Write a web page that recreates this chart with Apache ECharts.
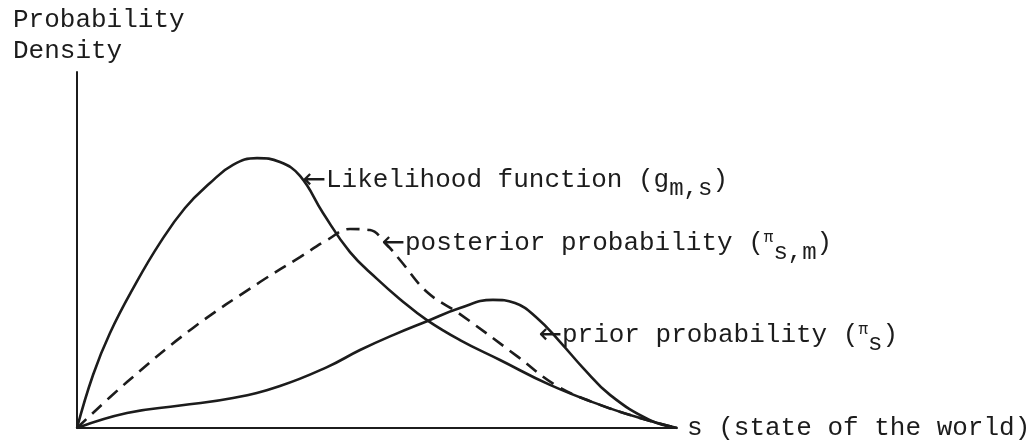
<!DOCTYPE html>
<html>
<head>
<meta charset="utf-8">
<script src="https://cdn.jsdelivr.net/npm/echarts@6/dist/echarts.min.js"></script>
<style>
  html, body { margin: 0; padding: 0; background: #fff; }
  #chart { width: 1035px; height: 444px; }
</style>
</head>
<body>
<div id="chart"></div>
<script>
// s runs 0..100 along the axis, density in arbitrary units 0..100
var likelihoodS = [0, 2.67, 5.5, 9.67, 13.83, 18, 22.17, 26, 30, 33.83, 37.17, 41, 45.5, 50, 53.83, 58.33, 63.83, 70.5, 78.83, 87.17, 93.83, 100]
var likelihoodY = [0, 14.9, 26.7, 40.2, 52, 61.8, 68.8, 73.9, 75.8, 74.7, 70.8, 60.4, 49.4, 41.9, 36.2, 30.3, 24.7, 19.1, 12.1, 6.5, 2.8, 0]

var posteriorS = [0, 8.33, 19.33, 30.5, 37.17, 41.67, 45.5, 48.83, 51.67, 53.83, 58.33, 63.83, 73.33, 80, 87.17, 93.83, 100]
var posteriorY = [0, 12.9, 28.1, 41, 48, 52.8, 55.9, 55.6, 51.4, 47.2, 38.2, 32, 20.2, 11.8, 6.5, 2.8, 0]

var priorS = [0, 8.33, 17.17, 26, 33.83, 41.67, 47.17, 52.67, 58.33, 63.83, 69.33, 73, 76.67, 80.5, 84.33, 88.83, 95.5, 100]
var priorY = [0, 4.2, 6.3, 8.4, 11.8, 17.1, 21.9, 26.1, 30, 33.7, 36, 35.1, 30.9, 24.2, 16.9, 9.3, 2.2, 0]

// where each label's arrow touches its curve
var likelihoodTip = [37.5, 70.5]
var posteriorTip = [51.33, 52.2]
var priorTip = [76.83, 30.3]

var ink = '#1c1c1c'
var mono = '"Liberation Mono", "DejaVu Sans Mono", monospace'

function pairs (xs, ys) {
  var out = []
  for (var i = 0; i < xs.length; i++) {
    out.push([xs[i], ys[i]])
  }
  return out
}

var rich = {
  arr: { fontFamily: '"DejaVu Sans"', fontSize: 28, lineHeight: 28, color: ink, verticalAlign: 'top' },
  t: { fontFamily: mono, fontSize: 26, lineHeight: 28, color: ink, verticalAlign: 'top' },
  pi: { fontFamily: mono, fontSize: 16, lineHeight: 16, color: ink, verticalAlign: 'top' },
  sub: { fontFamily: mono, fontSize: 24, lineHeight: 28, color: ink, verticalAlign: 'top', padding: [10, 0, 0, 0] }
}

function note (tip, text, offset) {
  return {
    symbol: 'circle',
    symbolSize: 1,
    silent: true,
    itemStyle: { color: 'rgba(0,0,0,0)' },
    label: {
      show: true,
      position: 'right',
      distance: 0,
      offset: offset,
      formatter: text,
      rich: rich
    },
    data: [{ coord: tip }]
  }
}

var chart = echarts.init(document.getElementById('chart'))
var option = {
  animation: false,
  title: {
    text: 'Probability\nDensity',
    left: 8,
    top: 0,
    textStyle: { fontFamily: mono, fontSize: 26, fontWeight: 'normal', lineHeight: 31, color: ink }
  },
  grid: { left: 77, right: 358, top: 72, bottom: 16 },
  xAxis: {
    type: 'value',
    min: 0,
    max: 100,
    name: 's (state of the world)',
    nameLocation: 'end',
    nameGap: 10,
    nameTextStyle: { fontFamily: mono, fontSize: 26, color: ink, align: 'left', verticalAlign: 'middle', padding: [0, 0, 6, 0] },
    axisLine: { lineStyle: { color: ink, width: 2 } },
    axisTick: { show: false },
    axisLabel: { show: false },
    splitLine: { show: false }
  },
  yAxis: {
    type: 'value',
    min: 0,
    max: 100,
    axisLine: { show: true, lineStyle: { color: ink, width: 2 } },
    axisTick: { show: false },
    axisLabel: { show: false },
    splitLine: { show: false }
  },
  series: [{
    name: 'Likelihood function',
    type: 'line',
    smooth: 0.45,
    symbol: 'none',
    lineStyle: { color: ink, width: 2.6 },
    data: pairs(likelihoodS, likelihoodY),
    markPoint: note(likelihoodTip, '{arr|←}{t|Likelihood function (g}{sub|m,s}{t|)}', [0, 4])
  }, {
    name: 'posterior probability',
    type: 'line',
    smooth: 0.4,
    symbol: 'none',
    lineStyle: { color: ink, width: 2.6, type: [13, 8] },
    data: pairs(posteriorS, posteriorY),
    markPoint: note(posteriorTip, '{arr|←}{t|posterior probability (}{pi|π}{sub|s,m}{t|)}', [-4, 2])
  }, {
    name: 'prior probability',
    type: 'line',
    smooth: 0.45,
    symbol: 'none',
    lineStyle: { color: ink, width: 2.6 },
    data: pairs(priorS, priorY),
    markPoint: note(priorTip, '{arr|←}{t|prior probability (}{pi|π}{sub|s}{t|)}', [0, 16])
  }]
}
chart.setOption(option)
</script>
</body>
</html>
